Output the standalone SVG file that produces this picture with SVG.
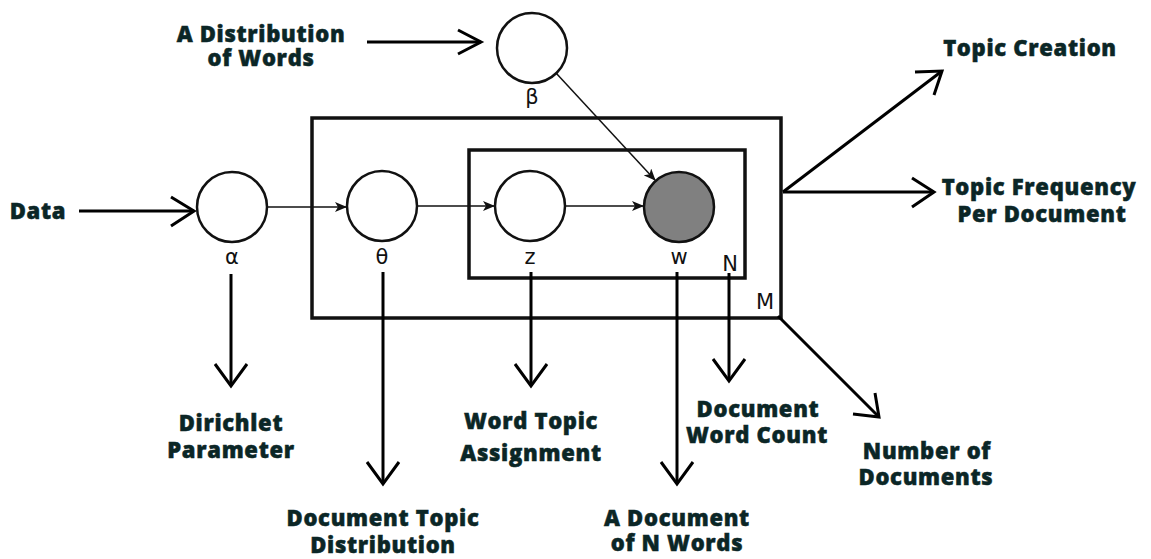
<svg xmlns="http://www.w3.org/2000/svg" width="1151" height="559" viewBox="0 0 1151 559">
<style>
.lbl{font-family:"Open Sans","Liberation Sans",sans-serif;font-weight:800;font-size:22px;letter-spacing:0.7px;fill:#0b2626;stroke:#0b2626;stroke-width:0.5;text-anchor:middle}
.sym{font-family:"DejaVu Sans","Liberation Sans",sans-serif;font-size:21px;fill:#111;text-anchor:middle}
.node{fill:#fff;stroke:#111;stroke-width:2.5}
.plate{fill:none;stroke:#111;stroke-width:3.5}
.thin{stroke:#111;stroke-width:1.5;fill:none}
.thick{stroke:#000;stroke-width:3;fill:none}
.head{stroke:#000;stroke-width:3;fill:none;stroke-linejoin:miter}
</style>
<defs>
<marker id="tri" markerWidth="12" markerHeight="10" refX="11" refY="5" orient="auto" markerUnits="userSpaceOnUse">
<path d="M0,0 L12,5 L0,10 L3,5 Z" fill="#111"/>
</marker>
</defs>
<rect width="1151" height="559" fill="#fff"/>
<g id="plates">
<rect class="plate" x="312" y="118" width="469" height="200"/>
<rect class="plate" x="469" y="150" width="276" height="128"/>
<text class="sym" x="730" y="271">N</text>
<text class="sym" x="765" y="309">M</text>
</g>
<g id="node-alpha"><circle class="node" cx="232" cy="207" r="35"/><text class="sym" x="232" y="264">α</text></g>
<g id="node-beta"><circle class="node" cx="532" cy="48" r="35"/><text class="sym" x="532" y="104">β</text></g>
<g id="node-theta"><circle class="node" cx="382" cy="206" r="35"/><text class="sym" x="382" y="264">θ</text></g>
<g id="node-z"><circle class="node" cx="530" cy="206" r="35"/><text class="sym" x="530" y="264">z</text></g>
<g id="node-w"><circle class="node" cx="679" cy="207" r="35" style="fill:#808080"/><text class="sym" x="679" y="264">w</text></g>
<g id="labels">
<text class="lbl"><tspan x="261" y="42">A Distribution</tspan><tspan x="261" y="66">of Words</tspan></text>
<text class="lbl" x="38" y="219">Data</text>
<text class="lbl" x="1030" y="56">Topic Creation</text>
<text class="lbl"><tspan x="1039" y="195">Topic Frequency</tspan><tspan x="1042" y="222">Per Document</tspan></text>
<text class="lbl"><tspan x="231" y="431">Dirichlet</tspan><tspan x="231" y="458">Parameter</tspan></text>
<text class="lbl"><tspan x="531" y="429">Word Topic</tspan><tspan x="531" y="461">Assignment</tspan></text>
<text class="lbl"><tspan x="383" y="526">Document Topic</tspan><tspan x="383" y="553">Distribution</tspan></text>
<text class="lbl"><tspan x="677" y="526">A Document</tspan><tspan x="677" y="551">of N Words</tspan></text>
<text class="lbl"><tspan x="758" y="417">Document</tspan><tspan x="757" y="443">Word Count</tspan></text>
<text class="lbl"><tspan x="927" y="459">Number of</tspan><tspan x="926" y="485">Documents</tspan></text>
</g>
<g id="connectors">
<line class="thin" x1="267" y1="207" x2="346" y2="207" marker-end="url(#tri)"/>
<line class="thin" x1="417" y1="206" x2="494" y2="206" marker-end="url(#tri)"/>
<line class="thin" x1="565" y1="206" x2="643" y2="206" marker-end="url(#tri)"/>
<line class="thin" x1="556" y1="73" x2="655" y2="180" marker-end="url(#tri)"/>
<line class="thick" x1="367" y1="42" x2="481" y2="42"/>
<polyline class="head" points="458,30 481,42 458,54"/>
<line class="thick" x1="79" y1="211" x2="194" y2="211"/>
<polyline class="head" points="171,197 194,211 171,226"/>
<line class="thick" x1="783" y1="192" x2="942" y2="71"/>
<polyline class="head" points="915,72 942,71 934,95"/>
<line class="thick" x1="783" y1="192" x2="934" y2="192"/>
<polyline class="head" points="912,178 934,192 912,207"/>
<line class="thick" x1="231" y1="274" x2="231" y2="386"/>
<polyline class="head" points="215,364 231,386 247,364"/>
<line class="thick" x1="383" y1="272" x2="383" y2="484"/>
<polyline class="head" points="367,462 383,484 399,462"/>
<line class="thick" x1="531" y1="272" x2="531" y2="386"/>
<polyline class="head" points="515,364 531,386 547,364"/>
<line class="thick" x1="677" y1="272" x2="677" y2="484"/>
<polyline class="head" points="661,462 677,484 693,462"/>
<line class="thick" x1="729" y1="273" x2="729" y2="381"/>
<polyline class="head" points="713,359 729,381 745,359"/>
<line class="thick" x1="778" y1="316" x2="879" y2="417"/>
<polyline class="head" points="853,414 879,417 875,393"/>
</g>
</svg>
